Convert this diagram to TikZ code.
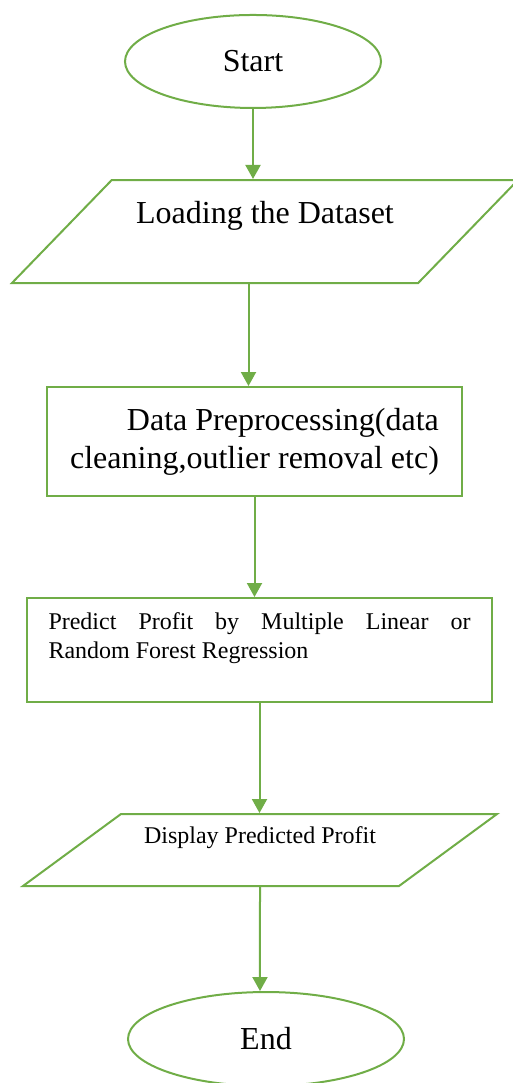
\documentclass[tikz,border=0pt]{standalone}
\usepackage{fontspec}
\setmainfont{Liberation Serif}
\usetikzlibrary{arrows.meta,positioning,shapes.geometric}
\definecolor{flowgreen}{HTML}{70AD47}

\begin{document}
\begin{tikzpicture}[x=1pt,y=1pt,line width=2pt,
  term/.style={ellipse,draw=flowgreen,inner sep=0pt,font=\fontsize{32}{38}\selectfont},
  io/.style={trapezium,trapezium stretches body,draw=flowgreen,inner sep=0pt},
  box/.style={rectangle,draw=flowgreen,inner sep=0pt},
  big/.style={font=\fontsize{32}{38}\selectfont},
  small/.style={font=\fontsize{24}{29}\selectfont},
  arr/.style={-{Triangle[length=14pt,width=15pt]},draw=flowgreen}]
\useasboundingbox (0,0) rectangle (512,1083);
\node[term,minimum width=256pt,minimum height=93pt] (start) at (253,1021.5) {Start};
\node[io,big,align=center,trapezium left angle=31.1,trapezium right angle=148.9,minimum width=506pt,minimum height=103pt,below=70pt of start,xshift=12pt] (load) {Loading the Dataset\\\mbox{}};
\node[box,big,align=right,minimum width=415pt,minimum height=109pt,below=102pt of load,xshift=-10.5pt] (prep) {Data Preprocessing(data\\cleaning,outlier removal etc)};
\node[box,small,minimum width=465pt,minimum height=104pt,below=100pt of prep,xshift=5pt,text width=422pt,align=justify] (pred) {Predict Profit by Multiple Linear or\linebreak Random Forest Regression\\\mbox{}};
\node[io,small,align=center,trapezium left angle=25.1,trapezium right angle=154.9,minimum width=474pt,minimum height=72pt,below=110pt of pred,xshift=0.5pt] (disp) {Display Predicted Profit\\\mbox{}};
\node[term,minimum width=276pt,minimum height=94pt,below=104pt of disp,xshift=6pt] (stop) {End};
\draw[arr](start)--(start|-load.north);
\draw[arr]([xshift=-6pt]prep.north|-load.south)--([xshift=-6pt]prep.north);
\draw[arr](prep)--(prep|-pred.north);\draw[arr](pred)--(pred|-disp.north);\draw[arr](disp)--(disp|-stop.north);
\end{tikzpicture}
\end{document}
